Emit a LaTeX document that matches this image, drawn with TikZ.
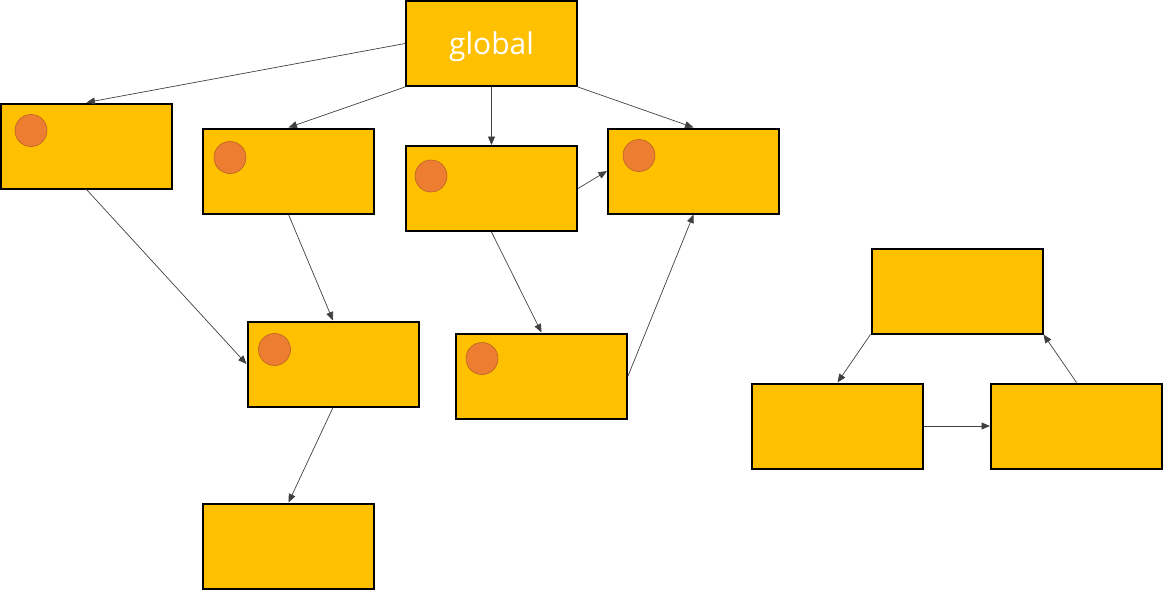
\documentclass[tikz,border=0pt]{standalone}
\usepackage{fontspec}
\setmainfont{Open Sans}
\usetikzlibrary{arrows.meta,calc}
\definecolor{boxfill}{HTML}{FFC000}
\definecolor{dotfill}{HTML}{ED7D31}
\definecolor{dotline}{HTML}{B8612A}
\definecolor{linkc}{HTML}{404040}
\begin{document}
\begin{tikzpicture}[x=1pt, y=-1pt,
        blk/.style={draw=black, fill=boxfill, line width=2pt,
          minimum width=171pt, minimum height=85pt, inner sep=0pt},
        dot/.style={circle, draw=dotline, fill=dotfill, line width=0.6pt,
          minimum size=32pt, inner sep=0pt},
        arr/.style={-{Triangle[length=8.5pt,width=7pt]}, linkc, line width=0.7pt},
      ]
        \useasboundingbox (0,0) rectangle (1163,590);
        \def\dx{31}  % circle offset from box corner
        \def\dy{29}

        % top
        \node[blk, font=\fontsize{30}{32}\selectfont, text=white, text depth=0pt] (glob) at (491.5,43.5) {global};

        % first row
        \node[blk] (a) at (86.5,146) {};
        \node[blk] (b) at (288.5,171) {};
        \node[blk] (c) at (491.5,188.5) {};
        \node[blk] (d) at (693.5,171) {};

        % second and third row
        \node[blk] (e) at (333,364) {};
        \node[blk] (f) at (541.5,376) {};
        \node[blk] (g) at (288.5,546) {};

        % right group
        \node[blk] (h) at (957,291) {};
        \node[blk] (i) at (837.5,426) {};
        \node[blk] (j) at (1076.5,426) {};

        % circles
        \node[dot] (adot) at ($(a.north west)+(\dx,\dy-1)$) {};
        \node[dot] (bdot) at ($(b.north west)+(\dx-3,\dy+1)$) {};
        \node[dot] (cdot) at ($(c.north west)+(\dx-5,\dy+2)$) {};
        \node[dot] (ddot) at ($(d.north west)+(\dx+1,\dy-1)$) {};
        \node[dot] (edot) at ($(e.north west)+(\dx-3,\dy)$) {};
        \node[dot] (fdot) at ($(f.north west)+(\dx-4,\dy-3)$) {};

        % links
        \draw[arr] (glob.west) -- (a.north);
        \draw[arr] (glob.south west) -- (b.north);
        \draw[arr] (glob.south) -- (c.north);
        \draw[arr] (glob.south east) -- (d.north);
        \draw[arr] (a.south) -- (e.west);
        \draw[arr] (b.south) -- (e.north);
        \draw[arr] (c.south) -- (f.north);
        \draw[arr] (c.east) -- (d.west);
        \draw[arr] (f.east) -- (d.south);
        \draw[arr] (e.south) -- (g.north);
        \draw[arr] (h.south west) -- (i.north);
        \draw[arr] (i.east) -- (j.west);
        \draw[arr] (j.north) -- (h.south east);
      \end{tikzpicture}
\end{document}
